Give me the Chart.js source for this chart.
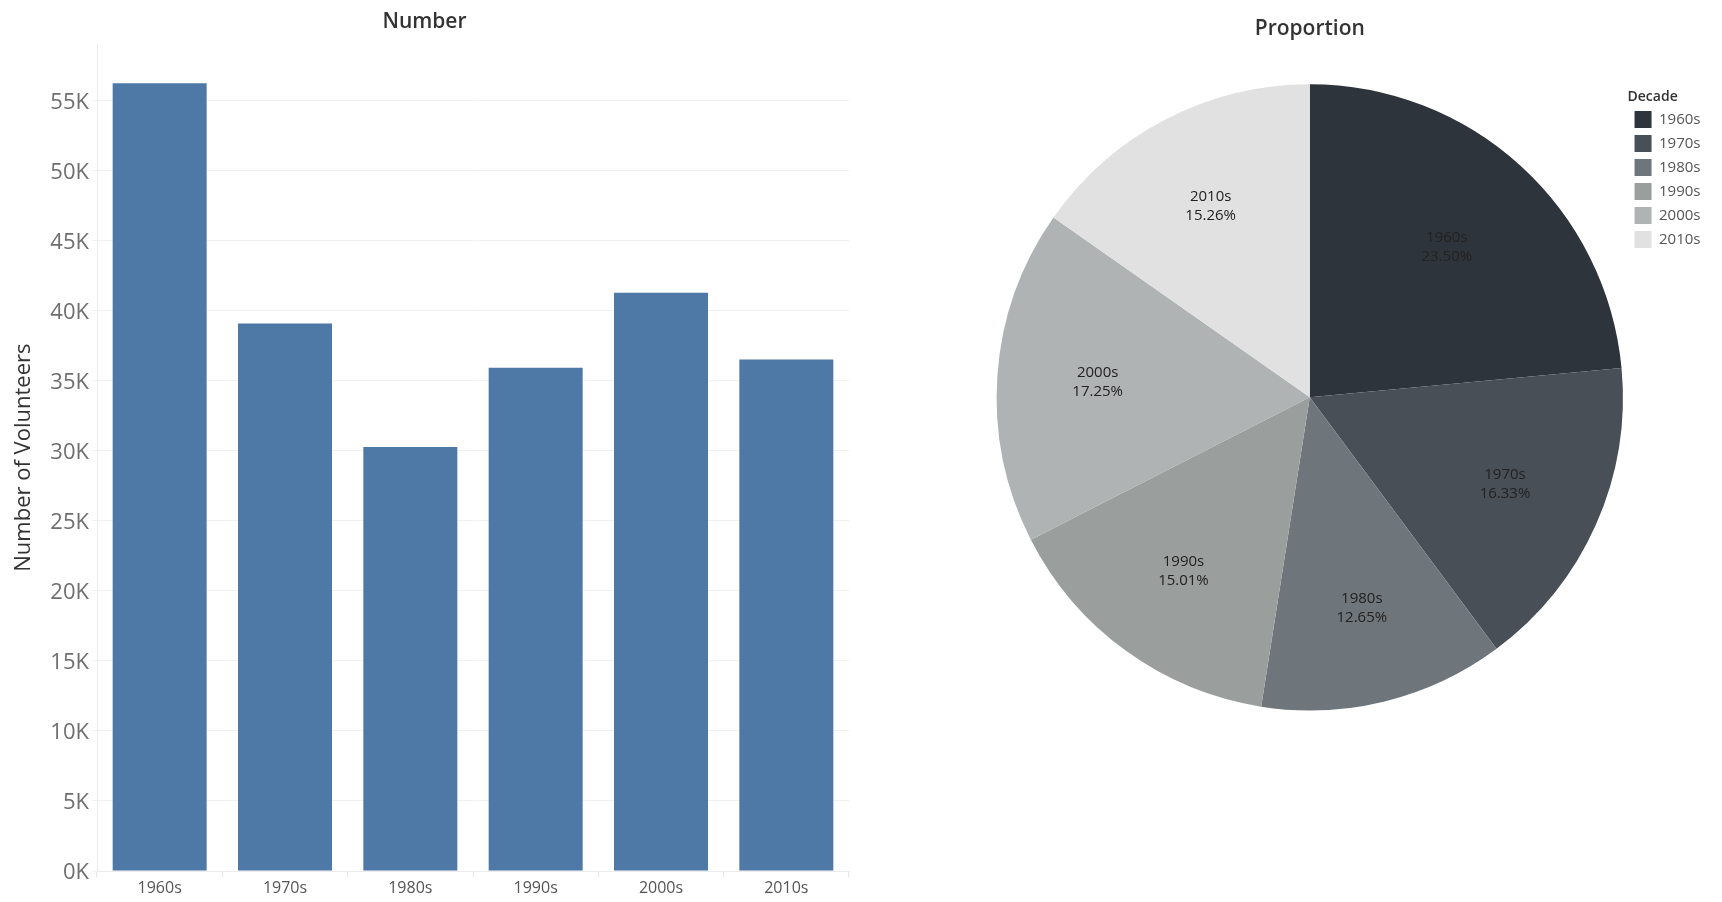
<!DOCTYPE html>
<html>
<head>
<meta charset="utf-8">
<script src="https://cdn.jsdelivr.net/npm/chart.js@4"></script>
<style>
  html, body { margin: 0; padding: 0; background: #fff; }
  body { width: 1722px; height: 902px; position: relative; overflow: hidden; }
  #graficoBarras { position: absolute; left: 0; top: 0; }
  #graficoTorta { position: absolute; left: 860px; top: 0; }
</style>
</head>
<body>
<canvas id="graficoBarras" width="860" height="902"></canvas>
<canvas id="graficoTorta" width="862" height="902"></canvas>
<script>
const decadas = ['1960s', '1970s', '1980s', '1990s', '2000s', '2010s'];
const voluntarios = [56212, 39061, 30259, 35904, 41262, 36502];
const ticksY = [0, 5000, 10000, 15000, 20000, 25000, 30000, 35000, 40000, 45000, 50000, 55000];
const grisesDecada = ['#2e343b', '#484f57', '#6f767b', '#9a9f9e', '#b0b3b3', '#e1e1e1'];

const fuente = "'Open Sans', sans-serif";

const ctxBarras = document.getElementById('graficoBarras').getContext('2d');
new Chart(ctxBarras, {
  type: 'bar',
  data: {
    labels: decadas,
    datasets: [{
      label: 'Number of Volunteers',
      data: voluntarios,
      backgroundColor: '#4e79a7',
      borderWidth: 0,
      categoryPercentage: 1,
      barPercentage: 0.75
    }]
  },
  options: {
    responsive: false,
    animation: false,
    layout: { padding: { left: 0, right: 11, top: 0, bottom: 0 } },
    plugins: {
      legend: { display: false },
      tooltip: { enabled: false },
      title: {
        display: true,
        text: 'Number',
        color: '#333',
        font: { family: fuente, size: 21, weight: '600' },
        padding: { top: 9, bottom: 10 }
      }
    },
    scales: {
      x: {
        grid: { offset: true, drawOnChartArea: false, tickLength: 6, color: '#e6e6e6' },
        border: { display: true, color: '#ececec' },
        ticks: { color: '#555', font: { family: fuente, size: 16 }, padding: 2 },
        afterFit: (s) => { s.height = 31; }
      },
      y: {
        min: 0,
        max: 59000,
        afterBuildTicks: (s) => { s.ticks = ticksY.map(v => ({ value: v })); },
        grid: { color: '#f0f0f0', tickLength: 5 },
        border: { display: true, color: '#ececec' },
        ticks: {
          color: '#6e6e6e',
          font: { family: fuente, size: 22 },
          padding: 3,
          labelOffset: 2,
          callback: (v) => (v / 1000) + 'K'
        },
        title: {
          display: true,
          text: 'Number of Volunteers',
          color: '#333',
          font: { family: fuente, size: 22 },
          padding: { top: 11, bottom: 0 }
        },
        afterFit: (s) => { s.width = 97; }
      }
    }
  }
});

// etiquetas dentro de cada porción: decada + porcentaje
const etiquetasTorta = {
  id: 'etiquetasTorta',
  afterDatasetsDraw(chart) {
    const ctx = chart.ctx;
    const meta = chart.getDatasetMeta(0);
    const datos = chart.data.datasets[0].data;
    const total = datos.reduce((a, b) => a + b, 0);
    ctx.save();
    ctx.font = '15px ' + fuente;
    ctx.fillStyle = '#222';
    ctx.textAlign = 'center';
    ctx.textBaseline = 'middle';
    meta.data.forEach((arco, i) => {
      const p = arco.getProps(['x', 'y', 'startAngle', 'endAngle', 'outerRadius'], true);
      const ang = p.endAngle - p.startAngle;
      const medio = (p.startAngle + p.endAngle) / 2;
      // centroide de la porción, un poco hacia afuera
      const centroide = 4 * Math.sin(ang / 2) / (3 * ang);
      const r = p.outerRadius * centroide * 1.07;
      const x = p.x + Math.cos(medio) * r;
      const y = p.y + Math.sin(medio) * r;
      ctx.fillText(chart.data.labels[i], x, y - 9.5);
      ctx.fillText((datos[i] / total * 100).toFixed(2) + '%', x, y + 9.5);
    });
    ctx.restore();
  }
};

const ctxTorta = document.getElementById('graficoTorta').getContext('2d');
new Chart(ctxTorta, {
  type: 'pie',
  data: {
    labels: decadas,
    datasets: [{
      label: 'Proportion',
      data: voluntarios,
      backgroundColor: grisesDecada,
      borderWidth: 0,
      hoverOffset: 0
    }]
  },
  options: {
    responsive: false,
    animation: false,
    layout: { padding: { left: 132, right: 11.5, top: 0, bottom: 191.5 } },
    plugins: {
      tooltip: { enabled: false },
      title: {
        display: true,
        text: 'Proportion',
        color: '#333',
        fullSize: false,
        font: { family: fuente, size: 21, weight: '600' },
        padding: { top: 16, bottom: 43 }
      },
      legend: {
        position: 'right',
        align: 'start',
        title: {
          display: true,
          text: 'Decade',
          position: 'start',
          color: '#333',
          font: { family: fuente, size: 14, weight: '600', lineHeight: 1 },
          padding: { top: 90, bottom: 0 }
        },
        labels: {
          boxWidth: 17,
          boxHeight: 17,
          padding: 7,
          color: '#555',
          font: { family: fuente, size: 15 }
        }
      }
    }
  },
  plugins: [etiquetasTorta]
});
</script>
</body>
</html>
